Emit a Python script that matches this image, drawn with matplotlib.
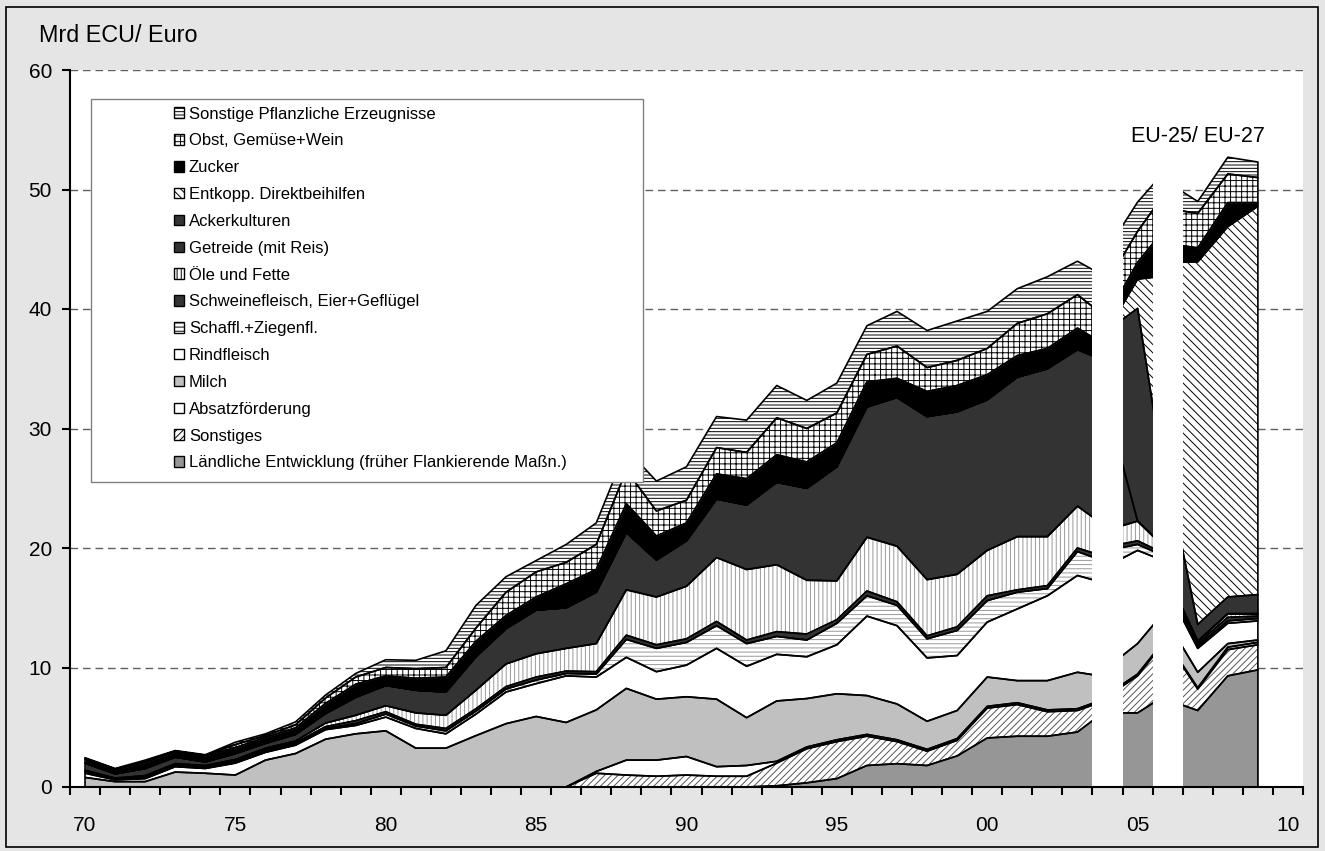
import numpy as np
import matplotlib
matplotlib.use("Agg")
import matplotlib.pyplot as plt
from matplotlib.patches import Rectangle

plt.rcParams['font.family'] = ['Liberation Sans', 'DejaVu Sans']
plt.rcParams['hatch.linewidth'] = 0.7

# category years of the three blocks (EU-15, EU-25, EU-27)
years_15 = list(range(1970, 2005))
years_25 = [2004, 2005, 2006]
years_27 = [2006, 2007, 2008, 2009]

# values in Mrd ECU/Euro, each tuple: (EU-15 1970-2004, EU-25 2004-2006, EU-27 2006-2009)
laendl = ([0] * 23 + [0.1, 0.35, 0.7, 1.8, 1.95, 1.8, 2.6, 4.1, 4.25, 4.25, 4.6, 6.5],
          [6.2, 6.2, 7.8], [7.3, 6.4, 9.3, 9.8])
sonst = ([0] * 17 + [1.15, 1.0, 0.9, 1.0, 0.9, 0.9, 1.9, 2.85, 3.1, 2.45, 1.85, 1.2, 1.3,
                     2.5, 2.65, 2.05, 1.8, 0.8],
         [1.4, 3.1, 4.7], [4.7, 1.8, 2.2, 2.1])
absatz = ([0] * 17 + [0.15, 1.25, 1.35, 1.55, 0.8, 0.9] + [0.15] * 12,
          [0.15, 0.15, 0.1], [0.1, 0.1, 0.2, 0.2])
milch = ([0.8, 0.45, 0.45, 1.25, 1.15, 1.0, 2.25, 2.8, 4.0, 4.45,
          4.7, 3.25, 3.25, 4.3, 5.3, 5.9, 5.4, 5.15, 6.0, 5.1,
          5.0, 5.65, 4.0, 5.05, 4.05, 3.85, 3.25, 3.0, 2.35, 2.35,
          2.45, 1.85, 2.45, 3.05, 1.75],
         [2.25, 2.55, 2.4], [1.7, 1.3, 0.3, 0.2])
rind = ([0.35, 0.15, 0.25, 0.45, 0.4, 1.0, 0.65, 0.7, 0.8, 0.7,
         1.15, 1.65, 1.2, 1.8, 2.65, 2.75, 3.9, 2.75, 2.6, 2.3,
         2.65, 4.25, 4.3, 3.9, 3.5, 4.1, 6.65, 6.55, 5.3, 4.6,
         4.6, 6.0, 7.1, 8.1, 7.8],
        [8.5, 7.8, 3.8], [2.7, 2.0, 1.7, 1.6])
schaf = ([0.1, 0.05, 0.05, 0.05, 0.05, 0.05, 0.05, 0.05, 0.1, 0.15,
          0.25, 0.2, 0.25, 0.25, 0.25, 0.3, 0.2, 0.25, 1.5, 1.95,
          1.9, 1.9, 1.9, 1.5, 1.4, 1.8, 1.7, 1.7, 1.6, 2.1,
          1.8, 1.4, 0.6, 2.0, 1.8],
         [1.3, 0.5, 0.4], [0.3, 0.2, 0.2, 0.2])
schwein = ([0.1, 0.05, 0.1, 0.1, 0.1, 0.15, 0.15, 0.15, 0.15, 0.25,
            0.2, 0.15, 0.2, 0.2, 0.2, 0.25, 0.2, 0.2, 0.35, 0.3,
            0.3, 0.35, 0.3, 0.4, 0.5, 0.3, 0.4, 0.3, 0.25, 0.3,
            0.4, 0.2, 0.25, 0.3, 0.4],
           [0.3, 0.3, 0.2], [0.3, 0.2, 0.3, 0.2])
oele = ([0.05, 0.05, 0.1, 0.1, 0.1, 0.1, 0.15, 0.15, 0.3, 0.45,
         0.5, 0.95, 1.1, 1.55, 1.9, 1.95, 1.9, 2.35, 3.8, 4.0,
         4.4, 5.35, 5.9, 5.6, 4.5, 3.25, 4.5, 4.65, 4.7, 4.4,
         3.8, 4.45, 4.1, 3.5, 2.5],
        [1.4, 1.65, 0.4], [0.5, 0.2, 0.3, 0.2])
getreide = ([0.6, 0.35, 0.6, 0.55, 0.3, 0.5, 0.4, 0.55, 0.8, 1.5,
             1.7, 1.9, 1.95, 2.8, 2.95, 3.65, 3.4, 4.3, 4.8, 3.1,
             3.8, 4.9, 5.4, 6.9, 7.7, 9.55, 10.9, 12.45, 13.65, 13.6,
             12.6, 13.35, 14.05, 13.1, 13.9],
            [10.2, 0, 0], [0, 0, 0, 0])
acker = ([0] * 35, [6.5, 17.8, 4.2], [8.4, 1.4, 1.4, 1.6])
entk = ([0] * 35, [0, 2.45, 18.8], [17.9, 30.35, 31.0, 32.5])
zucker = ([0.35, 0.35, 0.5, 0.45, 0.5, 0.5, 0.5, 0.55, 0.85, 1.1,
           0.8, 1.0, 1.25, 1.3, 1.1, 1.1, 2.0, 1.9, 2.4, 2.0,
           1.5, 2.1, 2.2, 2.3, 2.2, 2.0, 2.1, 1.6, 2.1, 2.2,
           2.1, 1.8, 1.7, 1.8, 1.3],
          [1.2, 1.4, 4.2], [1.6, 1.15, 2.0, 0.3])
obst = ([0.05, 0.05, 0.1, 0.05, 0.05, 0.25, 0.15, 0.25, 0.45, 0.6,
         0.7, 0.8, 0.8, 1.1, 1.95, 2.1, 1.8, 2.1, 2.8, 2.1,
         1.9, 2.2, 2.2, 3.1, 2.8, 2.5, 2.3, 2.7, 2.0, 2.1,
         2.2, 2.7, 2.9, 2.8, 2.3],
        [2.9, 2.6, 3.0], [2.9, 2.9, 2.4, 2.1])
spfl = ([0.05, 0.05, 0.1, 0.05, 0.05, 0.2, 0.15, 0.25, 0.25, 0.3,
         0.65, 0.7, 1.4, 1.9, 1.3, 0.95, 1.5, 1.8, 1.8, 2.5,
         2.8, 2.6, 2.7, 2.7, 2.35, 2.5, 2.4, 2.9, 3.1, 3.3,
         3.1, 2.9, 3.1, 2.8, 3.4],
        [2.7, 2.45, 1.8], [2.2, 1.0, 1.4, 1.3])

# white separator columns at the enlargements
gap_years = [2004, 2006]
gap_heights = [48, 52.6]

x_ticks = [1970, 1975, 1980, 1985, 1990, 1995, 2000, 2005, 2010]
x_labels = ['70', '75', '80', '85', '90', '95', '00', '05', '10']

# stacking order bottom -> top: data, label, face colour, hatch, hatch colour
series = [
    (laendl, 'Ländliche Entwicklung (früher Flankierende Maßn.)', '#969696', None, None),
    (sonst, 'Sonstiges', 'white', '/////', '#555555'),
    (absatz, 'Absatzförderung', 'white', None, None),
    (milch, 'Milch', '#c0c0c0', None, None),
    (rind, 'Rindfleisch', 'white', None, None),
    (schaf, 'Schaffl.+Ziegenfl.', 'white', '----', '#999999'),
    (schwein, 'Schweinefleisch, Eier+Geflügel', '#333333', None, None),
    (oele, 'Öle und Fette', 'white', '||||', '#999999'),
    (getreide, 'Getreide (mit Reis)', '#333333', None, None),
    (acker, 'Ackerkulturen', '#333333', None, None),
    (entk, 'Entkopp. Direktbeihilfen', 'white', '\\\\\\\\', '#000000'),
    (zucker, 'Zucker', '#000000', None, None),
    (obst, 'Obst, Gemüse+Wein', 'white', '+++', '#000000'),
    (spfl, 'Sonstige Pflanzliche Erzeugnisse', 'white', '-----', '#000000'),
]

fig = plt.figure(figsize=(13.25, 8.51), dpi=100, facecolor='#e5e5e5')
ax = fig.add_axes([70 / 1325, 1 - 787 / 851, 1233 / 1325, 717 / 851])
ax.set_facecolor('white')

# outer frame of the chart
fig.add_artist(Rectangle((6 / 1325, 4 / 851), 1312 / 1325, 840 / 851,
                         transform=fig.transFigure, fill=False,
                         edgecolor='black', linewidth=1.2))

for k, yrs in enumerate([years_15, years_25, years_27]):
    base = np.zeros(len(yrs))
    for data, label, fc, hatch, hc in series:
        top = base + np.array(data[k], dtype=float)
        ax.fill_between(yrs, base, top, facecolor=fc, hatch=hatch,
                        edgecolor=hc if hatch else fc, linewidth=0, zorder=2)
        ax.fill_between(yrs, base, top, facecolor='none', edgecolor='black',
                        linewidth=1.2, zorder=2.5)
        base = top

ax.bar(gap_years, gap_heights, width=1.0, color='white', edgecolor='none', zorder=3)

ax.set_xlim(1969.5, 2010.5)
ax.set_ylim(0, 60)
ax.set_yticks(range(0, 61, 10))
ax.set_xticks(x_ticks)
ax.set_xticklabels(x_labels)
ax.set_xticks(np.arange(1969.5, 2011, 1), minor=True)

ax.set_axisbelow(True)
ax.yaxis.grid(True, linestyle=(0, (5.5, 3.5)), color='#606060', linewidth=1.0)

for s in ['top', 'right']:
    ax.spines[s].set_visible(False)
for s in ['left', 'bottom']:
    ax.spines[s].set_linewidth(1.5)
    ax.spines[s].set_zorder(4)

ax.tick_params(axis='y', direction='out', length=6, width=1.5, pad=7, labelsize=15)
ax.tick_params(axis='x', which='major', length=0, pad=21, labelsize=15)
ax.tick_params(axis='x', which='minor', direction='out', length=6, width=1.5)

# legend with its own frame (the entries sit well right of the frame edge)
ax.add_patch(Rectangle((0.017, 0.4254), 0.448, 0.5342, transform=ax.transAxes,
                       facecolor='white', edgecolor='#808080', linewidth=1.0, zorder=4))
handles, labels = [], []
for data, label, fc, hatch, hc in reversed(series):
    handles.append(Rectangle((0, 0), 1, 1, facecolor=fc, hatch=hatch,
                             edgecolor='black', linewidth=1.0))
    labels.append(label)
leg = ax.legend(handles, labels, loc='upper left', bbox_to_anchor=(0.0843, 0.949),
                frameon=False, fontsize=12, handlelength=0.6, handleheight=0.6,
                handletextpad=0.3, labelspacing=0.71, borderaxespad=0, borderpad=0)
leg.set_zorder(5)

ax.text(0.915, 0.907, 'EU-25/ EU-27', transform=ax.transAxes, fontsize=15.5,
        ha='center', va='center', zorder=6)
fig.text(39 / 1325, 1 - 36 / 851, 'Mrd ECU/ Euro', fontsize=16.8, ha='left', va='center')

fig.savefig('out.png', dpi=100, facecolor=fig.get_facecolor())
